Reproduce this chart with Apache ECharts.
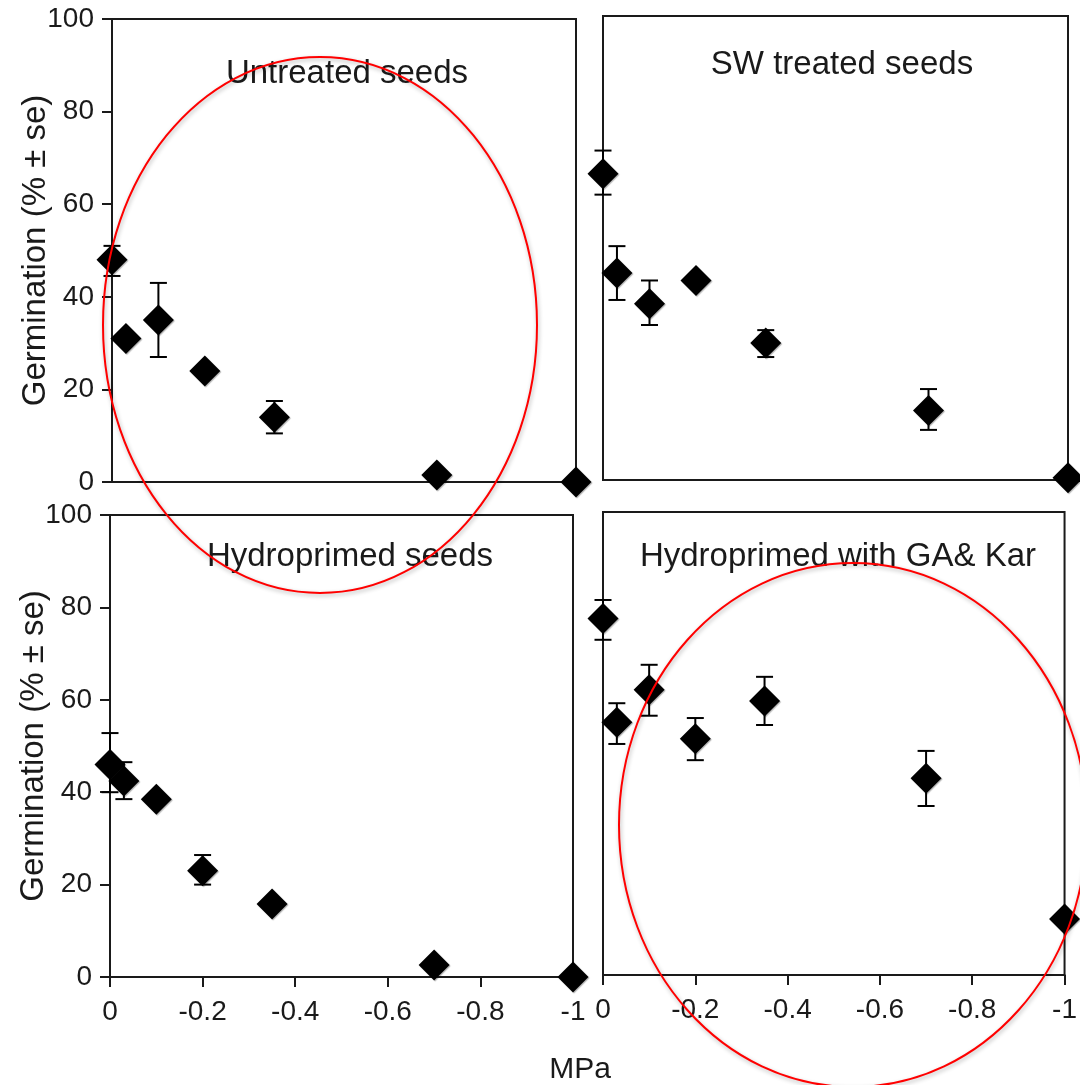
<!DOCTYPE html>
<html>
<head>
<meta charset="utf-8">
<script src="https://cdn.jsdelivr.net/npm/echarts@6/dist/echarts.min.js"></script>
<style>
  html, body { margin: 0; padding: 0; background: #fff; }
  #main { width: 1080px; height: 1085px; }
</style>
</head>
<body>
<div id="main"></div>
<script>
// 数据：水势 (MPa) 与萌发率 (% ± se)
var mpa = [0, -0.03, -0.1, -0.2, -0.35, -0.7, -1];
var panelTitles = ['Untreated seeds', 'SW treated seeds', 'Hydroprimed seeds', 'Hydroprimed with GA& Kar'];

var untreated = [48, 31, 35, 24, 14, 1.5, 0];
var untreatedLow = [44.5, null, 27, null, 10.5, null, null];
var untreatedHigh = [51, null, 43, null, 17.5, null, null];

var swTreated = [66, 44.6, 38, 43, 29.5, 15, 0.5];
var swLow = [61.5, 38.8, 33.4, null, 26.5, 10.8, null];
var swHigh = [71, 50.4, 43, null, 32.3, 19.6, null];

var hydro = [46, 42.4, 38.5, 23, 15.8, 2.6, 0];
var hydroLow = [40, 38.5, null, 20, null, null, null];
var hydroHigh = [52.8, 46.5, null, 26.4, null, null, null];

var gaKar = [77, 54.6, 61.6, 51, 59.2, 42.5, 12.1];
var gaLow = [72.4, 49.9, 56, 46.4, 54, 36.5, null];
var gaHigh = [81, 58.7, 67, 55.5, 64.4, 48.4, null];

var xTicks = [0, -0.2, -0.4, -0.6, -0.8, -1];
var yTicks = [0, 20, 40, 60, 80, 100];

var values = [untreated, swTreated, hydro, gaKar];
var lows = [untreatedLow, swLow, hydroLow, gaLow];
var highs = [untreatedHigh, swHigh, hydroHigh, gaHigh];

var FONT = 'Liberation Sans, Arial, sans-serif';
var INK = '#1a1a1a';

var grids = [
    {left: 112, top: 19, width: 464, height: 463},
    {left: 603, top: 16, width: 465, height: 464},
    {left: 110, top: 515, width: 463, height: 462},
    {left: 603, top: 512, width: 465, height: 463}
];
var titleX = [347, 842, 350, 838];
var titleY = [57, 48, 540, 540];

var echart = echarts.init(document.getElementById('main'));

var option = {
    backgroundColor: '#fff',
    animation: false,
    grid: [],
    xAxis: [],
    yAxis: [],
    series: [],
    graphic: []
};

grids.forEach(function (g, i) {
    var bottomRow = i >= 2;
    var leftCol = i % 2 === 0;
    option.grid.push({
        left: g.left, top: g.top, width: g.width, height: g.height,
        show: true, borderColor: INK, borderWidth: 2
    });
    option.xAxis.push({
        gridIndex: i,
        type: 'value',
        min: -1, max: 0, interval: 0.2,
        inverse: true,
        splitLine: {show: false},
        axisLine: {show: true, onZero: false, lineStyle: {color: INK, width: 2}},
        axisTick: {show: bottomRow, length: 10, lineStyle: {color: INK, width: 2}},
        axisLabel: {
            show: bottomRow, margin: 21,
            color: INK, fontSize: 28, fontFamily: FONT,
            formatter: function (v) { return xTicks.indexOf(v) >= 0 ? String(v) : ''; }
        }
    });
    option.yAxis.push({
        gridIndex: i,
        type: 'value',
        min: 0, max: 100, interval: 20,
        splitLine: {show: false},
        name: leftCol ? 'Germination (% \u00b1 se)' : '',
        nameLocation: 'middle',
        nameRotate: 90,
        nameGap: 60,
        nameMoveOverlap: false,
        nameTextStyle: {color: INK, fontSize: 33, fontFamily: FONT},
        axisLine: {show: true, onZero: false, lineStyle: {color: INK, width: 2}},
        axisTick: {show: leftCol, length: 10, lineStyle: {color: INK, width: 2}},
        axisLabel: {
            show: leftCol, margin: 18,
            color: INK, fontSize: 28, fontFamily: FONT,
            formatter: function (v) { return yTicks.indexOf(v) >= 0 ? String(v) : ''; }
        }
    });

    // 误差线
    var errData = [];
    mpa.forEach(function (x, k) {
        if (lows[i][k] != null) errData.push([x, lows[i][k], highs[i][k]]);
    });
    option.series.push({
        type: 'custom',
        xAxisIndex: i, yAxisIndex: i,
        clip: false,
        z: 2,
        data: errData,
        renderItem: function (params, api) {
            var x = api.value(0);
            var lo = api.coord([x, api.value(1)]);
            var hi = api.coord([x, api.value(2)]);
            var w = 8.5;
            var st = {stroke: '#000', lineWidth: 2};
            return {
                type: 'group',
                children: [
                    {type: 'line', shape: {x1: lo[0], y1: lo[1], x2: hi[0], y2: hi[1]}, style: st},
                    {type: 'line', shape: {x1: lo[0] - w, y1: lo[1], x2: lo[0] + w, y2: lo[1]}, style: st},
                    {type: 'line', shape: {x1: hi[0] - w, y1: hi[1], x2: hi[0] + w, y2: hi[1]}, style: st}
                ]
            };
        }
    });

    // 散点
    option.series.push({
        type: 'scatter',
        xAxisIndex: i, yAxisIndex: i,
        clip: false,
        z: 3,
        symbol: 'diamond',
        symbolSize: [31, 31],
        itemStyle: {
            color: '#000', opacity: 1,
            shadowBlur: 1, shadowColor: 'rgba(0,0,0,0.3)',
            shadowOffsetX: 1, shadowOffsetY: 1
        },
        data: mpa.map(function (x, k) { return [x, values[i][k]]; })
    });

    option.graphic.push({
        type: 'text',
        x: titleX[i],
        y: titleY[i],
        style: {
            text: panelTitles[i],
            fill: INK, fontSize: 33, fontFamily: FONT,
            textAlign: 'center'
        },
        z: 10
    });
});

option.graphic.push({
    type: 'text',
    x: 580, y: 1055,
    style: {text: 'MPa', fill: INK, fontSize: 30, fontFamily: FONT, textAlign: 'center'},
    z: 10
});

// 红色椭圆标注
option.graphic.push({
    type: 'ellipse',
    shape: {cx: 320, cy: 325, rx: 217, ry: 268},
    style: {fill: null, stroke: '#ff0000', lineWidth: 2,
        shadowBlur: 4, shadowColor: 'rgba(0,0,0,0.3)', shadowOffsetX: 1, shadowOffsetY: 2},
    z: 20
});
option.graphic.push({
    type: 'ellipse',
    shape: {cx: 853, cy: 825, rx: 234, ry: 262},
    style: {fill: null, stroke: '#ff0000', lineWidth: 2,
        shadowBlur: 4, shadowColor: 'rgba(0,0,0,0.3)', shadowOffsetX: 1, shadowOffsetY: 2},
    z: 20
});

echart.setOption(option);
</script>
</body>
</html>
